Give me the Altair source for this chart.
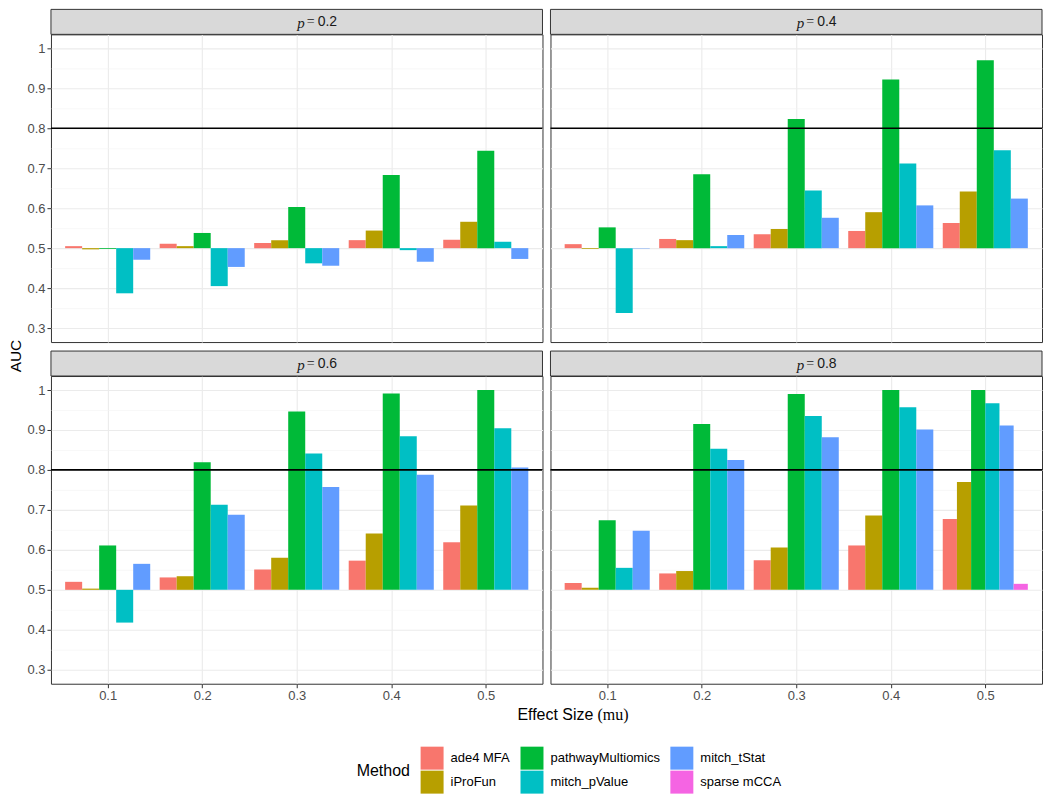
import altair as alt
import pandas as pd

# ---------------- data ----------------
mu_values = [0.1, 0.2, 0.3, 0.4, 0.5]
p_values = [0.2, 0.4, 0.6, 0.8]
methods = ["ade4 MFA", "iProFun", "pathwayMultiomics", "mitch_pValue", "mitch_tStat", "sparse mCCA"]
method_colors = ["#F8766D", "#B79F00", "#00BA38", "#00BFC4", "#619CFF", "#F564E3"]

auc_p02 = {
    "ade4 MFA":          [0.505, 0.511, 0.513, 0.520, 0.521],
    "iProFun":           [0.497, 0.505, 0.520, 0.544, 0.566],
    "pathwayMultiomics": [0.498, 0.538, 0.603, 0.683, 0.744],
    "mitch_pValue":      [0.387, 0.405, 0.462, 0.495, 0.516],
    "mitch_tStat":       [0.471, 0.453, 0.456, 0.466, 0.473],
}
auc_p04 = {
    "ade4 MFA":          [0.510, 0.523, 0.535, 0.543, 0.563],
    "iProFun":           [0.498, 0.520, 0.548, 0.590, 0.642],
    "pathwayMultiomics": [0.552, 0.685, 0.823, 0.922, 0.970],
    "mitch_pValue":      [0.338, 0.505, 0.644, 0.712, 0.745],
    "mitch_tStat":       [0.499, 0.533, 0.576, 0.607, 0.624],
}
auc_p06 = {
    "ade4 MFA":          [0.520, 0.531, 0.551, 0.573, 0.619],
    "iProFun":           [0.503, 0.534, 0.580, 0.641, 0.711],
    "pathwayMultiomics": [0.611, 0.819, 0.946, 0.991, 1.000],
    "mitch_pValue":      [0.418, 0.713, 0.841, 0.884, 0.904],
    "mitch_tStat":       [0.565, 0.688, 0.757, 0.788, 0.806],
}
auc_p08 = {
    "ade4 MFA":          [0.517, 0.541, 0.574, 0.611, 0.677],
    "iProFun":           [0.505, 0.547, 0.606, 0.686, 0.770],
    "pathwayMultiomics": [0.674, 0.915, 0.990, 1.000, 1.000],
    "mitch_pValue":      [0.555, 0.853, 0.935, 0.957, 0.967],
    "mitch_tStat":       [0.648, 0.825, 0.882, 0.901, 0.911],
    "sparse mCCA":       [None, None, None, None, 0.515],
}
threshold = [0.8]
baseline = 0.5
y_major = [0.3, 0.4, 0.5, 0.6, 0.7, 0.8, 0.9, 1.0]
y_minor = [0.35, 0.45, 0.55, 0.65, 0.75, 0.85, 0.95]

rows = []
for p, table in zip(p_values, [auc_p02, auc_p04, auc_p06, auc_p08]):
    for m, vals in table.items():
        for mu, v in zip(mu_values, vals):
            if v is not None:
                rows.append({"p": p, "mu": mu, "method": m,
                             "order": methods.index(m), "auc": v})
df = pd.DataFrame(rows)
thr_df = pd.DataFrame({"thr": threshold})

# ---------------- style ----------------
W, H, HH = 492, 308, 25
SANS = "Liberation Sans"
SERIF = "Liberation Serif"
GRID = "#EBEBEB"
DARK = "#333333"

xscale = alt.Scale(domain=[0.04, 0.56], nice=False, zero=False)
yscale = alt.Scale(domain=[0.265, 1.035], nice=False, zero=False)

color = alt.Color(
    "method:N",
    scale=alt.Scale(domain=methods, range=method_colors),
    legend=alt.Legend(
        title="Method", orient="none", legendX=306, legendY=713,
        columns=3, titleOrient="left", titleAnchor="middle",
        titleBaseline="middle", titleFont=SANS, titleFontSize=16,
        titleFontWeight="normal", titleColor="black", titlePadding=10,
        labelFont=SANS, labelFontSize=13, labelColor="black",
        labelOffset=7, columnPadding=10, rowPadding=1,
        symbolType="square", symbolSize=529, symbolStrokeWidth=0,
        symbolOpacity=1, padding=0,
    ),
)


def panel(p, left, bottom, idx):
    tbl = pd.DataFrame({"label": [f"{p}"]})
    cx = W / 2 + 10
    header_rect = alt.Chart(tbl).mark_rect(
        fill="#D9D9D9", stroke=DARK, strokeWidth=1
    ).encode(x=alt.value(0), x2=alt.value(W), y=alt.value(-HH), y2=alt.value(0))
    h_p = alt.Chart(tbl).mark_text(
        text="p", font=SERIF, fontStyle="italic", fontSize=15, align="right",
        baseline="middle", color="#1A1A1A"
    ).encode(x=alt.value(cx - 2), y=alt.value(-HH / 2 + 1))
    h_eq = alt.Chart(tbl).mark_text(
        text="=", font=SERIF, fontSize=14, align="center",
        baseline="middle", color="#1A1A1A"
    ).encode(x=alt.value(cx + 4), y=alt.value(-HH / 2))
    h_val = alt.Chart(tbl).mark_text(
        font=SANS, fontSize=14, align="left", baseline="middle", color="#1A1A1A"
    ).encode(x=alt.value(cx + 11), y=alt.value(-HH / 2), text="label:N")

    xaxis = alt.Axis(
        values=mu_values, format=".1f", grid=True, gridColor=GRID, gridWidth=1.1,
        domain=False, labels=bottom, ticks=bottom, tickColor=DARK, tickSize=4,
        tickWidth=1, labelFont=SANS, labelFontSize=13, labelColor="#4D4D4D",
        labelPadding=2, title=None,
    )
    yaxis = alt.Axis(
        values=y_major, labelExpr="datum.value == 1 ? '1' : format(datum.value, '.1f')",
        grid=True, gridColor=GRID, gridWidth=1.1, domain=False,
        labels=left, ticks=left, tickColor=DARK, tickSize=4, tickWidth=1,
        labelFont=SANS, labelFontSize=13, labelColor="#4D4D4D", labelPadding=2,
        title=None,
    )
    yminor = alt.Axis(
        values=y_minor, grid=True, gridColor="#F3F3F3", gridWidth=0.6,
        domain=False, labels=False, ticks=False, title=None, orient="right",
    )

    bars = alt.Chart(df).transform_filter(
        alt.datum.p == p
    ).transform_window(
        k="row_number()", groupby=["mu"], sort=[alt.SortField("order")]
    ).transform_joinaggregate(
        n="count()", groupby=["mu"]
    ).transform_calculate(
        x0="datum.mu - 0.045 + (datum.k - 1) * 0.09 / datum.n",
        x1="datum.mu - 0.045 + datum.k * 0.09 / datum.n",
    ).mark_rect(strokeWidth=0).encode(
        x=alt.X("x0:Q", scale=xscale, axis=xaxis),
        x2="x1:Q",
        y=alt.Y("auc:Q", scale=yscale, axis=yaxis),
        y2=alt.datum(baseline),
        color=color,
    )
    rule = alt.Chart(thr_df).mark_rule(color="black", strokeWidth=1.7).encode(
        y=alt.Y("thr:Q", scale=yscale, axis=yminor)
    )

    layers = [header_rect, h_p, h_eq, h_val, bars, rule]
    if idx == 0:
        ytitle = alt.Chart(tbl).mark_text(
            text="AUC", font=SANS, fontSize=15.5, angle=270, align="center",
            baseline="middle", color="black"
        ).encode(x=alt.value(-35), y=alt.value(H + 14))
        layers.append(ytitle)
    if idx == 2:
        xt1 = alt.Chart(tbl).mark_text(
            text="Effect Size", font=SANS, fontSize=16, align="right",
            baseline="middle", color="black"
        ).encode(x=alt.value(W + 51), y=alt.value(H + 31))
        xt2 = alt.Chart(tbl).mark_text(
            text="(mu)", font=SERIF, fontSize=16, align="left",
            baseline="middle", color="black"
        ).encode(x=alt.value(W + 55), y=alt.value(H + 31))
        layers += [xt1, xt2]

    return alt.layer(*layers).resolve_axis(y="independent").properties(
        width=W, height=H
    )


panels = [
    panel(0.2, True, False, 0),
    panel(0.4, False, False, 1),
    panel(0.6, True, True, 2),
    panel(0.8, False, True, 3),
]

chart = alt.concat(
    *panels, columns=2, spacing={"row": HH + 9, "column": 8}, bounds="flush"
).resolve_scale(color="shared").properties(
    padding=0, background="white"
).configure_view(
    stroke=DARK, strokeWidth=1
)

chart.save("out.html", embed_options={"renderer": "svg", "actions": False})
